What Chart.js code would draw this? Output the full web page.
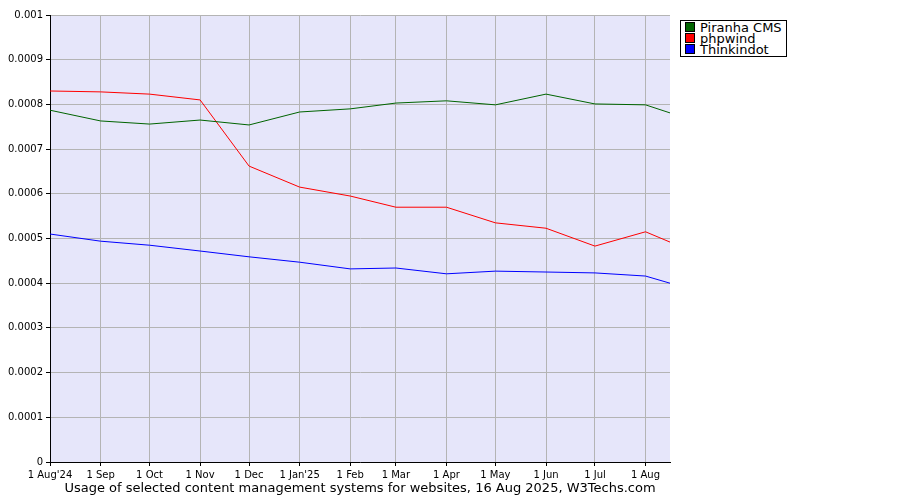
<!DOCTYPE html>
<html><head><script src="https://cdn.jsdelivr.net/npm/chart.js@4"></script>
<style>body{margin:0;background:#fff;font-family:"DejaVu Sans",sans-serif}
#w{position:relative;width:900px;height:500px}
#lg{position:absolute;left:680px;top:20px;border:1px solid #000;background:#fff;padding:1px 4px;font-size:13px;line-height:11px}
#lg span{display:inline-block;width:8px;height:8px;border:1px solid #000;margin-right:5px}
#tt{position:absolute;left:50px;width:620px;top:480px;text-align:center;font-size:13px}
</style></head><body><div id="w"><canvas id="c" width="900" height="500"></canvas>
<div id="lg"><div><span style="background:#006400"></span>Piranha CMS</div><div><span style="background:#ff0000"></span>phpwind</div><div><span style="background:#0000ff"></span>Thinkindot</div></div>
<div id="tt">Usage of selected content management systems for websites, 16 Aug 2025, W3Techs.com</div></div>
<script>
const days=[0,31,61,92,122,153,184,212,243,273,304,334,365,380];
const tickDays=[0,31,61,92,122,153,184,212,243,273,304,334,365];
const tickLabels=["1 Aug'24","1 Sep","1 Oct","1 Nov","1 Dec","1 Jan'25","1 Feb","1 Mar","1 Apr","1 May","1 Jun","1 Jul","1 Aug"];
const piranha=[0.000787,0.000763,0.000756,0.000765,0.000754,0.000783,0.00079,0.000803,0.000808,0.000799,0.000823,0.000801,0.000799,0.000781];
const phpwind=[0.00083,0.000828,0.000823,0.00081,0.000662,0.000615,0.000595,0.00057,0.00057,0.000535,0.000523,0.000483,0.000515,0.000492];
const thinkindot=[0.00051,0.000494,0.000485,0.000472,0.000459,0.000447,0.000432,0.000434,0.000421,0.000427,0.000425,0.000423,0.000416,0.0004];
const mk=(d,c)=>({data:d.map((v,i)=>({x:days[i],y:v})),borderColor:c,borderWidth:1,pointRadius:0,tension:0,fill:false});
const bg={id:'bg',beforeDraw(ch){const a=ch.chartArea,x=ch.ctx;x.save();x.fillStyle='#e6e6fa';x.fillRect(a.left,a.top,a.right-a.left,a.bottom-a.top);x.restore();}};
new Chart(document.getElementById('c'),{type:'line',data:{datasets:[mk(piranha,'#006400'),mk(phpwind,'#ff0000'),mk(thinkindot,'#0000ff')]},
options:{responsive:false,animation:false,layout:{padding:{top:15,right:230,left:0,bottom:0}},
plugins:{legend:{display:false},tooltip:{enabled:false}},
scales:{x:{type:'linear',min:0,max:380,afterFit(s){s.height=38},afterBuildTicks(s){s.ticks=tickDays.map(v=>({value:v}))},
ticks:{autoSkip:false,maxRotation:0,font:{family:'DejaVu Sans',size:10},color:'#000',callback:(v)=>tickLabels[tickDays.indexOf(v)]},
grid:{color:'#b4b4b4',tickLength:4,tickColor:'#000'},border:{color:'#000'}},
y:{min:0,max:0.001,afterFit(s){s.width=50},afterBuildTicks(s){s.ticks=[0,1,2,3,4,5,6,7,8,9,10].map(i=>({value:i/10000}))},
ticks:{font:{family:'DejaVu Sans',size:10},color:'#000',callback:v=>v===0?'0':v.toFixed(4).replace(/0+$/,'')},
grid:{color:'#b4b4b4',tickLength:4,tickColor:'#000'},border:{color:'#000'}}}},plugins:[bg]});
</script></body></html>
